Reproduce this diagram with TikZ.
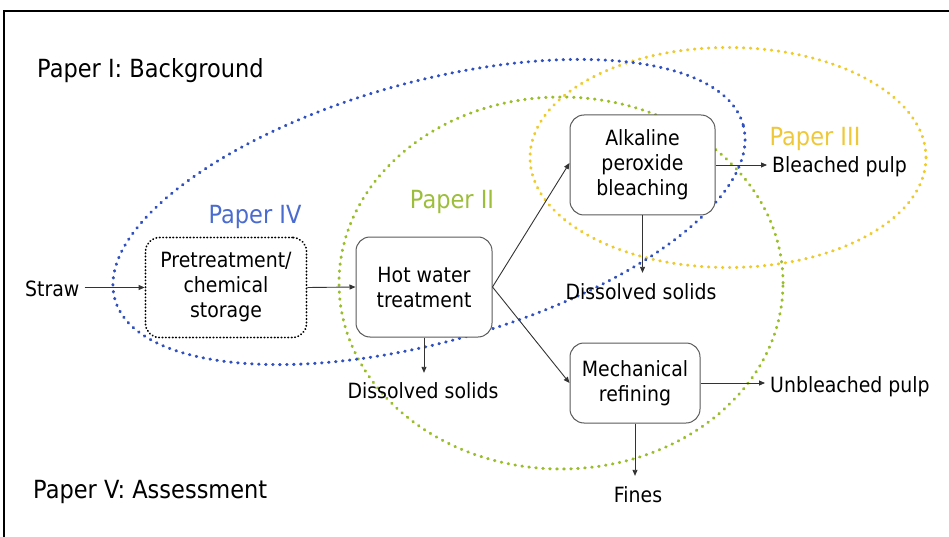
\documentclass[tikz,border=0pt]{standalone}
\usepackage{fontspec}
\setmainfont{DejaVu Sans}[FakeStretch=0.9]
\usetikzlibrary{arrows.meta}
\definecolor{pblue}{HTML}{2F50C0}
\definecolor{pbluetext}{HTML}{4A6BD0}
\definecolor{pgreen}{HTML}{9ABD2A}
\definecolor{pgreentext}{HTML}{9CBE3A}
\definecolor{pyellow}{HTML}{EDCB2E}
\definecolor{pyellowtext}{HTML}{EEC83A}
\definecolor{boxline}{HTML}{5A5A5A}
\definecolor{arr}{HTML}{333333}
\begin{document}
\begin{tikzpicture}[x=1pt,y=-1pt,
  dotring/.style={line width=3pt, line cap=round, dash pattern=on 0.6pt off 6.4pt},
  procbox/.style={draw=boxline, line width=1pt, rounded corners=14pt, fill=white, align=center, inner sep=0pt, font=\fontsize{21}{25}\selectfont},
  lbl/.style={inner sep=0pt, font=\fontsize{21}{25}\selectfont},
  big/.style={inner sep=0pt, font=\fontsize{25}{30}\selectfont},
  flow/.style={draw=arr, line width=0.9pt, -{Triangle[length=6pt,width=5pt]}},
]
\useasboundingbox (0,0) rectangle (949,537);
% frame
\draw[line width=2.5pt] (4,537) -- (4,11) -- (949,11);

% dotted paper regions
\draw[dotring, draw=pyellow] (728,157.5) ellipse [x radius=198pt, y radius=110pt];
\draw[dotring, draw=pgreen] (561,283) ellipse [x radius=222pt, y radius=186pt];
\draw[dotring, draw=pblue, rotate around={15.5:(429,212)}] (429,212) ellipse [x radius=326pt, y radius=130pt];

% labels
\node[big, anchor=base west] (p1) at (37,78) {Paper I: Background};
\node[big, anchor=base west] (p5) at (33,498) {Paper V: Assessment};
\node[big, anchor=base, text=pbluetext] (p4) at (255,223) {Paper IV};
\node[big, anchor=base, text=pgreentext] (p2) at (452,209) {Paper II};
\node[big, anchor=base, text=pyellowtext] (p3) at (815,146) {Paper III};

% process boxes
\node[procbox, draw=black, line width=1.8pt, dash pattern=on 0.4pt off 3pt, line cap=round,
      minimum width=161pt, minimum height=100pt] (pre) at (226,287.5) {Pretreatment/\\chemical\\storage};
\node[procbox, minimum width=136pt, minimum height=100pt] (hot) at (424,287) {Hot water\\treatment};
\node[procbox, minimum width=145pt, minimum height=100pt] (alk) at (642.5,165) {Alkaline\\peroxide\\bleaching};
\node[procbox, minimum width=130pt, minimum height=80pt] (mech) at (635,383) {Mechanical\\refining};

% input / outputs
\node[lbl, anchor=base west] (straw) at (25,296.5) {Straw};
\node[lbl, anchor=base west] (bp) at (772,173) {Bleached pulp};
\node[lbl, anchor=base west] (ubp) at (770,392) {Unbleached pulp};
\node[lbl, anchor=base] (ds1) at (641,299) {Dissolved solids};
\node[lbl, anchor=base] (ds2) at (423,398) {Dissolved solids};
\node[lbl, anchor=base] (fines) at (638,502) {Fines};

% connectors
\draw[flow, shorten <=5pt] (straw.east |- pre.west) -- (pre.west);
\draw[flow] (pre.east) -- (hot.west);
\draw[flow] (hot.east) -- ([yshift=2pt]alk.west);
\draw[flow] (hot.east) -- (mech.west);
\draw[flow, shorten >=10pt] (alk.south) -- (alk.south |- ds1.north);
\draw[flow, shorten >=9pt] (hot.south) -- (hot.south |- ds2.north);
\draw[flow, shorten >=10pt] (mech.south) -- (mech.south |- fines.north);
\draw[flow, shorten >=5pt] (alk.east) -- (alk.east -| bp.west);
\draw[flow, shorten >=5pt] (mech.east) -- (mech.east -| ubp.west);
\end{tikzpicture}
\end{document}
